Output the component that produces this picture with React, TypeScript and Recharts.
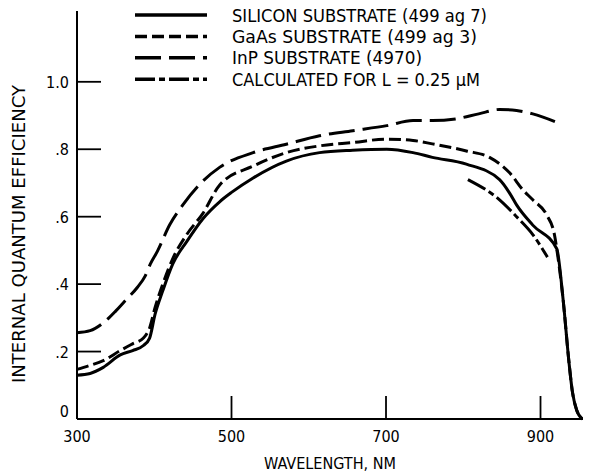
import React from 'react';
import { LineChart, Line, XAxis, YAxis, Legend } from 'recharts';

const FONT = "'DejaVu Sans Condensed', 'Liberation Sans Narrow', sans-serif";

// axis ticks
const xTicks = [300, 500, 700, 900];
const yTicks = [0, 0.2, 0.4, 0.6, 0.8, 1.0];
const yTickLabels = ['0', '.2', '.4', '.6', '.8', '1.0'];

// silicon substrate (solid)
const siliconNm = [300, 317, 334, 356, 372, 386, 394, 401, 411, 424, 442, 463, 485, 500, 528, 571, 614, 657, 701, 735, 760, 804, 847, 860, 869, 890, 921, 929, 937, 941, 947, 954];
const siliconQe = [0.13, 0.135, 0.153, 0.19, 0.203, 0.218, 0.24, 0.31, 0.38, 0.46, 0.526, 0.594, 0.645, 0.672, 0.715, 0.765, 0.79, 0.797, 0.8, 0.79, 0.776, 0.756, 0.71, 0.67, 0.635, 0.575, 0.505, 0.36, 0.165, 0.085, 0.025, 0];

// GaAs substrate (short dash)
const gaasNm = [300, 317, 334, 356, 372, 386, 394, 401, 411, 424, 442, 463, 485, 528, 571, 614, 657, 701, 735, 760, 804, 834, 860, 877, 890, 908, 918, 921, 929, 937, 941, 947, 954];
const gaasQe = [0.147, 0.159, 0.173, 0.203, 0.223, 0.24, 0.27, 0.33, 0.4, 0.476, 0.547, 0.61, 0.695, 0.75, 0.79, 0.81, 0.82, 0.83, 0.826, 0.816, 0.795, 0.776, 0.73, 0.68, 0.65, 0.605, 0.547, 0.505, 0.36, 0.165, 0.085, 0.025, 0];

// InP substrate (long dash)
const inpNm = [300, 317, 334, 350, 362, 378, 388, 395, 404, 420, 437, 458, 485, 528, 571, 614, 657, 701, 735, 760, 790, 820, 847, 869, 890, 921];
const inpQe = [0.256, 0.262, 0.285, 0.32, 0.35, 0.39, 0.423, 0.46, 0.497, 0.576, 0.635, 0.694, 0.747, 0.79, 0.815, 0.84, 0.855, 0.87, 0.885, 0.885, 0.89, 0.905, 0.918, 0.915, 0.905, 0.88];

// calculated for L = 0.25 um (dash-dot)
const calcNm = [806, 847, 869, 890, 909];
const calcQe = [0.71, 0.65, 0.6, 0.547, 0.48];

const zip = (nm: number[], qe: number[]) => nm.map((x, i) => ({ nm: x, qe: qe[i] }));

const series = [
  { name: 'SILICON SUBSTRATE (499 ag 7)', data: zip(siliconNm, siliconQe), dash: undefined, textLen: 255 },
  { name: 'GaAs SUBSTRATE (499 ag 3)', data: zip(gaasNm, gaasQe), dash: '12 5', textLen: 245 },
  { name: 'InP SUBSTRATE (4970)', data: zip(inpNm, inpQe), dash: '26 8', textLen: 190 },
  { name: 'CALCULATED FOR L = 0.25 \u00b5M', data: zip(calcNm, calcQe), dash: '20 4 6 4', textLen: 248 },
];

const YTick = (props: any) => {
  const { x, y, payload } = props;
  const i = yTicks.findIndex((t) => Math.abs(t - payload.value) < 1e-6);
  return (
    <g>
      <line x1={x} y1={y} x2={x + 24} y2={y} stroke="#000" strokeWidth={1.8} />
      <text x={x - 8} y={y} dy={payload.value === 0 ? -2 : 6} textAnchor="end" fontFamily={FONT} fontSize={16} fill="#000">
        {yTickLabels[i]}
      </text>
    </g>
  );
};

const XTick = (props: any) => {
  const { x, y, payload } = props;
  return (
    <g>
      <line x1={x} y1={y} x2={x} y2={y - 23} stroke="#000" strokeWidth={1.8} />
      <text x={x} y={y + 23} textAnchor="middle" fontFamily={FONT} fontSize={16} fill="#000">
        {payload.value}
      </text>
    </g>
  );
};

const renderLegend = () => (
  <svg width={590} height={95}>
    {series.map((s, i) => {
      const cy = 15 + i * 21.4;
      return (
        <g key={s.name}>
          <line x1={135} y1={cy} x2={207} y2={cy} stroke="#000" strokeWidth={3.5} strokeDasharray={s.dash} />
          <text x={232} y={cy + 6.5} fontFamily={FONT} fontSize={17} fill="#000" textLength={s.textLen} lengthAdjust="spacingAndGlyphs">
            {s.name}
          </text>
        </g>
      );
    })}
  </svg>
);

const App = () => {
  return (
    <div style={{ position: 'absolute', left: 0, top: 0, width: 590, height: 475, background: '#fff' }}>
      <LineChart width={590} height={475} margin={{ top: 11, right: 7, left: 0, bottom: 0 }}>
        <XAxis
          dataKey="nm"
          type="number"
          domain={[300, 955]}
          ticks={xTicks}
          height={56}
          tickSize={0}
          tickMargin={0}
          tick={<XTick />}
          axisLine={{ stroke: '#000', strokeWidth: 2 }}
          allowDuplicatedCategory={false}
          label={({ viewBox }: any) => (
            <text x={viewBox.x + viewBox.width / 2} y={469} textAnchor="middle" fontFamily={FONT} fontSize={16} fill="#000" textLength={132} lengthAdjust="spacingAndGlyphs">
              WAVELENGTH, NM
            </text>
          )}
        />
        <YAxis
          type="number"
          domain={[0, 1.21]}
          ticks={yTicks}
          width={77}
          tickSize={0}
          tickMargin={0}
          tick={<YTick />}
          axisLine={{ stroke: '#000', strokeWidth: 2 }}
          label={() => (
            <text x={25} y={234} transform="rotate(-90, 25, 234)" textAnchor="middle" fontFamily={FONT} fontSize={17} fill="#000" textLength={298} lengthAdjust="spacingAndGlyphs">
              INTERNAL QUANTUM EFFICIENCY
            </text>
          )}
        />
        <Legend
          layout="vertical"
          align="center"
          verticalAlign="middle"
          content={renderLegend}
          wrapperStyle={{ left: 0, top: 0, width: 590, height: 95 }}
        />
        {series.map((s) => (
          <Line
            key={s.name}
            data={s.data}
            dataKey="qe"
            name={s.name}
            type="monotone"
            stroke="#000"
            strokeWidth={3}
            strokeDasharray={s.dash}
            dot={false}
            activeDot={false}
            isAnimationActive={false}
          />
        ))}
      </LineChart>
    </div>
  );
};

export default App;
